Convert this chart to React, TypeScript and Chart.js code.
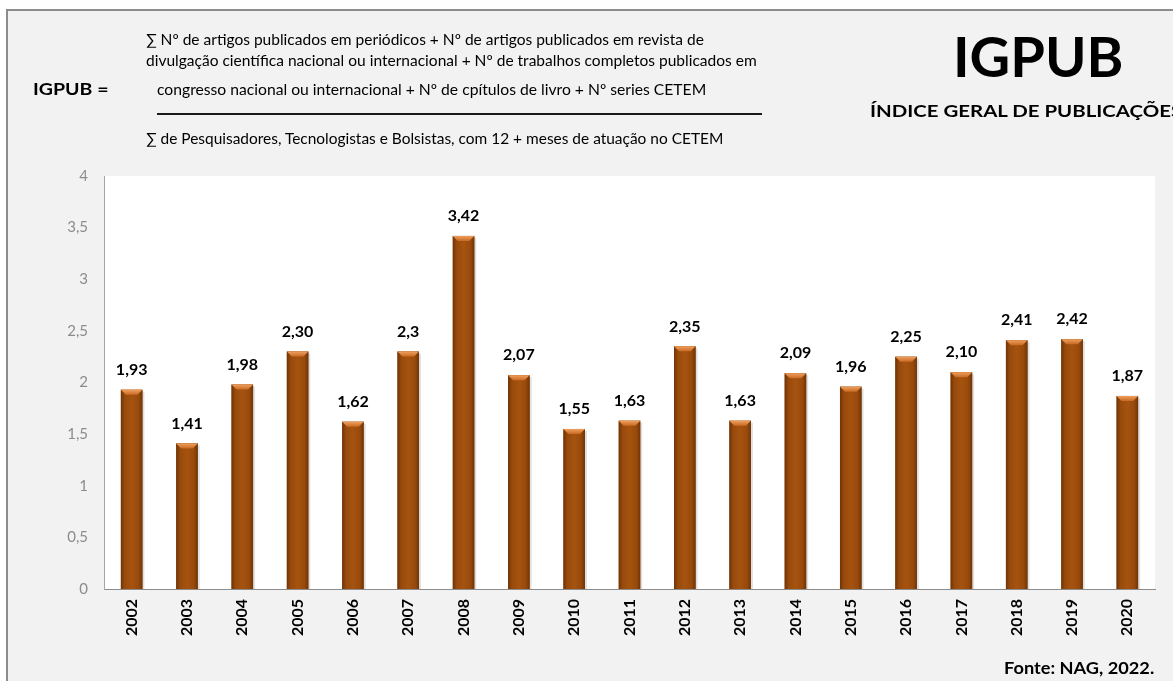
import React, { useEffect, useRef } from "react";
import { Chart, registerables } from "chart.js";

Chart.register(...registerables);

const years = ["2002","2003","2004","2005","2006","2007","2008","2009","2010","2011","2012","2013","2014","2015","2016","2017","2018","2019","2020"];
const values = [1.93, 1.41, 1.98, 2.30, 1.62, 2.3, 3.42, 2.07, 1.55, 1.63, 2.35, 1.63, 2.09, 1.96, 2.25, 2.10, 2.41, 2.42, 1.87];
const valueLabels = ["1,93","1,41","1,98","2,30","1,62","2,3","3,42","2,07","1,55","1,63","2,35","1,63","2,09","1,96","2,25","2,10","2,41","2,42","1,87"];
const yMin = 0;
const yMax = 4;
const yStep = 0.5;

const formulaLines = [
  "∑ Nº de artigos publicados em periódicos + Nº de artigos publicados em revista de",
  "divulgação científica nacional ou internacional + Nº de trabalhos completos publicados em",
  "congresso nacional ou internacional + Nº de cpítulos de livro + Nº series CETEM",
];
const denominator = "∑ de Pesquisadores, Tecnologistas e Bolsistas, com 12 + meses de atuação no CETEM";
const bigTitle = "IGPUB";
const subTitle = "ÍNDICE GERAL DE PUBLICAÇÕES";
const formulaLabel = "IGPUB =";
const source = "Fonte: NAG, 2022.";

const FONT = "Lato, 'Open Sans', sans-serif";

const plotBgPlugin = {
  id: "plotBg",
  beforeDraw(chart: any) {
    const { ctx, chartArea } = chart;
    ctx.save();
    ctx.fillStyle = "#ffffff";
    ctx.fillRect(chartArea.left, chartArea.top, chartArea.right - chartArea.left, chartArea.bottom - chartArea.top);
    ctx.restore();
  },
};

const barStylePlugin = {
  id: "barStyle",
  afterDatasetsDraw(chart: any) {
    const { ctx } = chart;
    const meta = chart.getDatasetMeta(0);
    ctx.save();
    meta.data.forEach((bar: any, i: number) => {
      const { x, y, base, width } = bar.getProps(["x", "y", "base", "width"], true);
      const l = x - width / 2;
      const r = x + width / 2;
      const h = base - y;
      ctx.fillStyle = "rgba(0,0,0,0.12)";
      ctx.fillRect(r, y + 2, 2, h - 2);
      const g = ctx.createLinearGradient(l, 0, r, 0);
      g.addColorStop(0, "#6e3407");
      g.addColorStop(0.18, "#984a0c");
      g.addColorStop(0.5, "#a5530f");
      g.addColorStop(0.82, "#984a0c");
      g.addColorStop(1, "#6e3407");
      ctx.fillStyle = g;
      ctx.fillRect(l, y, width, h);
      const b = Math.min(5, h / 2);
      const tg = ctx.createLinearGradient(0, y, 0, y + b);
      tg.addColorStop(0, "#f0a060");
      tg.addColorStop(1, "#c96a22");
      ctx.fillStyle = tg;
      ctx.beginPath();
      ctx.moveTo(l, y);
      ctx.lineTo(r, y);
      ctx.lineTo(r - b, y + b);
      ctx.lineTo(l + b, y + b);
      ctx.closePath();
      ctx.fill();
      ctx.fillStyle = "#000000";
      ctx.font = `bold 16px ${FONT}`;
      ctx.textAlign = "center";
      ctx.textBaseline = "middle";
      ctx.fillText(valueLabels[i], x, y - 20);
    });
    ctx.restore();
  },
};

export default function App() {
  const ref = useRef<HTMLCanvasElement | null>(null);

  useEffect(() => {
    document.body.style.margin = "0";
    const canvas = ref.current;
    if (!canvas) return;
    const chart = new Chart(canvas, {
      type: "bar",
      data: {
        labels: years,
        datasets: [
          {
            data: values,
            backgroundColor: "#a0500e",
            borderWidth: 0,
            barPercentage: 0.39,
            categoryPercentage: 1,
          },
        ],
      },
      options: {
        responsive: false,
        animation: false,
        layout: { padding: { top: 176, left: 0, right: 18, bottom: 0 } },
        plugins: { legend: { display: false }, tooltip: { enabled: false }, title: { display: false } },
        scales: {
          x: {
            grid: { display: false, drawTicks: false },
            border: { display: true, color: "#8c8c8c", width: 1 },
            ticks: {
              minRotation: 90,
              maxRotation: 90,
              padding: 10,
              color: "#000000",
              font: { family: FONT, size: 16, weight: "bold" },
            },
            afterFit(scale: any) {
              scale.height = 92;
            },
          },
          y: {
            min: yMin,
            max: yMax,
            grid: { display: false, drawTicks: false },
            border: { display: true, color: "#a6a6a6", width: 1 },
            ticks: {
              stepSize: yStep,
              padding: 16,
              color: "#8c8c8c",
              font: { family: FONT, size: 15 },
              callback: (v: any) => String(v).replace(".", ","),
            },
            afterFit(scale: any) {
              scale.width = 104;
            },
          },
        },
      },
      plugins: [plotBgPlugin, barStylePlugin],
    });
    return () => chart.destroy();
  }, []);

  const txt = (extra: React.CSSProperties, sx = 1): React.CSSProperties => ({
    position: "absolute",
    whiteSpace: "nowrap",
    lineHeight: 1,
    fontFamily: FONT,
    color: "#000",
    transform: `scaleX(${sx})`,
    transformOrigin: "left center",
    ...extra,
  });

  return (
    <div style={{ position: "fixed", left: 0, top: 0, width: 1173, height: 681, background: "#ffffff", overflow: "hidden" }}>
      <div
        style={{
          position: "absolute",
          left: 6,
          top: 9,
          width: 1300,
          height: 800,
          borderLeft: "2px solid #8c8c8c",
          borderTop: "2px solid #8c8c8c",
          background: "#f2f2f2",
        }}
      />
      <canvas ref={ref} width={1173} height={681} style={{ position: "absolute", left: 0, top: 0, width: 1173, height: 681 }} />
      <div style={txt({ left: 146, top: 32, fontSize: 15 }, 1.035)}>{formulaLines[0]}</div>
      <div style={txt({ left: 146, top: 53, fontSize: 15 }, 1.035)}>{formulaLines[1]}</div>
      <div style={txt({ left: 157, top: 82, fontSize: 15 }, 1.045)}>{formulaLines[2]}</div>
      <div style={{ position: "absolute", left: 157, top: 113, width: 605, height: 2, background: "#1a1a1a" }} />
      <div style={txt({ left: 146, top: 131, fontSize: 15 }, 1.03)}>{denominator}</div>
      <div style={txt({ left: 33, top: 80, fontSize: 17, fontWeight: "bold" }, 1.15)}>{formulaLabel}</div>
      <div style={txt({ left: 953, top: 28, fontSize: 56, fontWeight: "bold" })}>{bigTitle}</div>
      <div style={txt({ left: 870, top: 102, fontSize: 17, fontWeight: "bold" }, 1.2)}>{subTitle}</div>
      <div style={txt({ left: 1004, top: 659, fontSize: 17, fontWeight: "bold" }, 1.07)}>{source}</div>
    </div>
  );
}
